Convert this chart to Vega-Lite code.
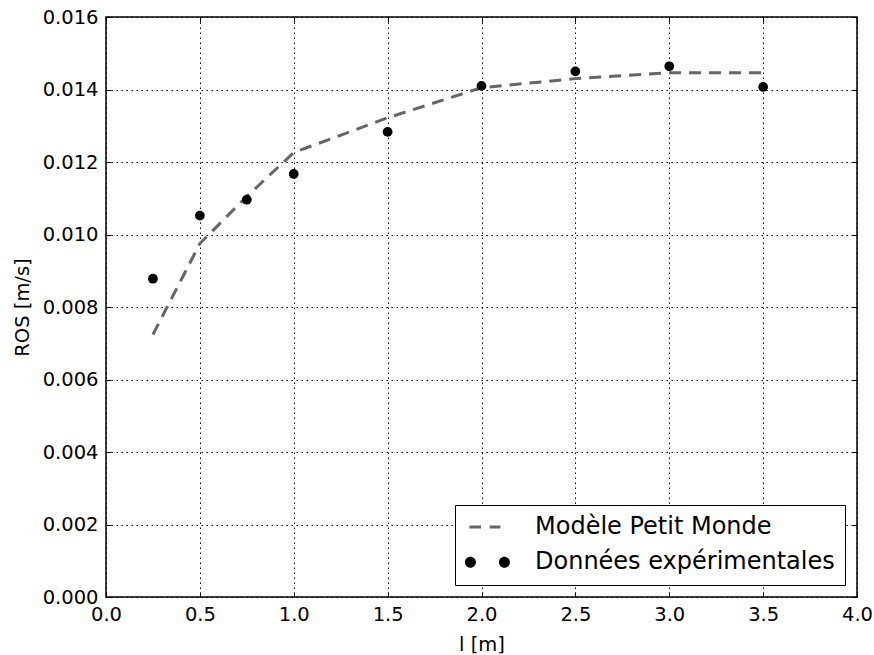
{
  "$schema": "https://vega.github.io/schema/vega-lite/v6.json",
  "width": 751,
  "height": 580,
  "autosize": {"type": "none"},
  "padding": {"left": 106, "top": 17, "right": 17, "bottom": 58},
  "background": "white",
  "data": {
    "values": [
      {"l": 0.25, "ros": 0.00724, "serie": "Modèle Petit Monde"},
      {"l": 0.5, "ros": 0.00975, "serie": "Modèle Petit Monde"},
      {"l": 0.75, "ros": 0.01105, "serie": "Modèle Petit Monde"},
      {"l": 1.0, "ros": 0.01226, "serie": "Modèle Petit Monde"},
      {"l": 1.5, "ros": 0.01322, "serie": "Modèle Petit Monde"},
      {"l": 2.0, "ros": 0.01405, "serie": "Modèle Petit Monde"},
      {"l": 2.5, "ros": 0.0143, "serie": "Modèle Petit Monde"},
      {"l": 3.0, "ros": 0.01446, "serie": "Modèle Petit Monde"},
      {"l": 3.5, "ros": 0.01446, "serie": "Modèle Petit Monde"},
      {"l": 0.25, "ros": 0.00878, "serie": "Données expérimentales"},
      {"l": 0.5, "ros": 0.01052, "serie": "Données expérimentales"},
      {"l": 0.75, "ros": 0.01096, "serie": "Données expérimentales"},
      {"l": 1.0, "ros": 0.01167, "serie": "Données expérimentales"},
      {"l": 1.5, "ros": 0.01283, "serie": "Données expérimentales"},
      {"l": 2.0, "ros": 0.0141, "serie": "Données expérimentales"},
      {"l": 2.5, "ros": 0.0145, "serie": "Données expérimentales"},
      {"l": 3.0, "ros": 0.01464, "serie": "Données expérimentales"},
      {"l": 3.5, "ros": 0.01407, "serie": "Données expérimentales"}
    ]
  },
  "encoding": {
    "x": {
      "field": "l",
      "type": "quantitative",
      "scale": {"domain": [0, 4], "nice": false, "zero": false},
      "axis": {
        "title": "l [m]",
        "values": [0, 0.5, 1, 1.5, 2, 2.5, 3, 3.5, 4],
        "format": ".1f",
        "grid": true,
        "labelFlush": false,
        "titlePadding": 12
      }
    },
    "y": {
      "field": "ros",
      "type": "quantitative",
      "scale": {"domain": [0, 0.016], "nice": false},
      "axis": {
        "title": "ROS [m/s]",
        "values": [0, 0.002, 0.004, 0.006, 0.008, 0.01, 0.012, 0.014, 0.016],
        "format": ".3f",
        "grid": true,
        "labelFlush": false,
        "titlePadding": 10
      }
    },
    "color": {
      "field": "serie",
      "type": "nominal",
      "scale": {
        "domain": ["Modèle Petit Monde", "Données expérimentales"],
        "range": ["#666666", "#000000"]
      },
      "legend": {
        "title": null,
        "orient": "bottom-right",
        "offset": 12,
        "padding": 10,
        "strokeColor": "black",
        "fillColor": "white",
        "cornerRadius": 0,
        "labelFont": "DejaVu Sans",
        "labelFontSize": 24,
        "labelColor": "black",
        "labelLimit": 600,
        "symbolSize": 576,
        "labelOffset": 46,
        "rowPadding": 11.2,
        "encode": {
          "symbols": {
            "update": {
              "shape": {"signal": "datum.value === 'Modèle Petit Monde' ? 'M-0.632,-0.125H0.335V0.125H-0.632Z M1.06,-0.125H1.951V0.125H1.06Z' : 'M-1.007,0A0.458,0.458 0 1,0 -0.091,0A0.458,0.458 0 1,0 -1.007,0Z M1.827,0A0.458,0.458 0 1,0 2.743,0A0.458,0.458 0 1,0 1.827,0Z'"},
              "fill": {"signal": "datum.value === 'Modèle Petit Monde' ? '#666666' : '#000000'"},
              "stroke": {"value": "transparent"},
              "strokeWidth": {"value": 0},
              "strokeDash": {"value": []},
              "opacity": {"value": 1},
              "size": {"value": 576}
            }
          }
        }
      }
    }
  },
  "layer": [
    {
      "transform": [{"filter": "datum.serie === 'Modèle Petit Monde'"}],
      "mark": {"type": "line", "strokeDash": [12, 8], "strokeWidth": 3}
    },
    {
      "transform": [{"filter": "datum.serie === 'Données expérimentales'"}],
      "mark": {"type": "point", "filled": true, "size": 95, "opacity": 1},
      "encoding": {
        "x": {
          "field": "l",
          "type": "quantitative",
          "axis": {
            "orient": "top",
            "title": null,
            "labels": false,
            "grid": false,
            "values": [0, 0.5, 1, 1.5, 2, 2.5, 3, 3.5, 4]
          }
        },
        "y": {
          "field": "ros",
          "type": "quantitative",
          "axis": {
            "orient": "right",
            "title": null,
            "labels": false,
            "grid": false,
            "values": [0, 0.002, 0.004, 0.006, 0.008, 0.01, 0.012, 0.014, 0.016]
          }
        }
      }
    }
  ],
  "resolve": {"axis": {"x": "independent", "y": "independent"}},
  "config": {
    "view": {"stroke": "black", "strokeWidth": 1.5},
    "axis": {
      "labelFont": "DejaVu Sans",
      "labelFontSize": 19.5,
      "labelColor": "black",
      "titleFont": "DejaVu Sans",
      "titleFontSize": 19.5,
      "titleFontWeight": "normal",
      "titleColor": "black",
      "domain": false,
      "tickColor": "black",
      "tickSize": -5,
      "tickWidth": 1,
      "labelPadding": 13,
      "gridColor": "black",
      "gridDash": [1.5, 3.5],
      "gridOpacity": 1,
      "gridWidth": 1
    }
  }
}
